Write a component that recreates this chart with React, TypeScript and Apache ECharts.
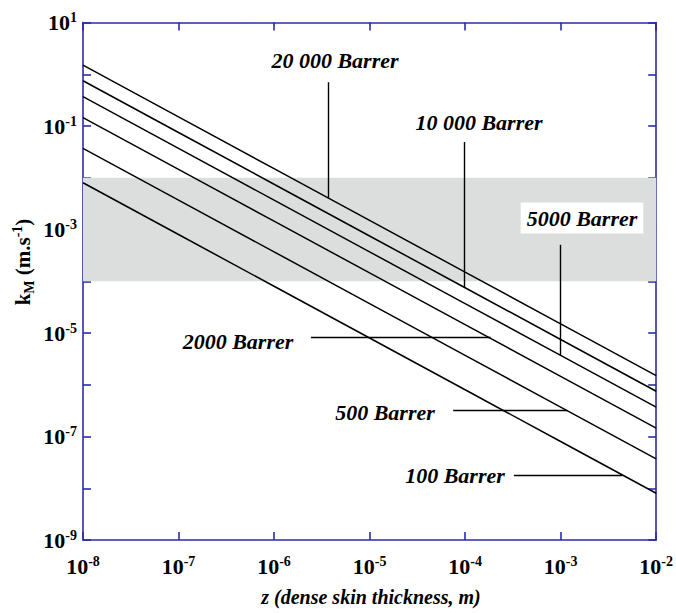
import React, { useEffect, useRef } from 'react';
import * as echarts from 'echarts';

// z (dense skin thickness, m) sample points
const zValues = [1e-8, 1e-7, 1e-6, 1e-5, 1e-4, 1e-3, 1e-2];
// kM (m.s-1) for each permeability
const k20000 = [1.5, 1.5e-1, 1.5e-2, 1.5e-3, 1.5e-4, 1.5e-5, 1.5e-6];
const k10000 = [0.75, 7.5e-2, 7.5e-3, 7.5e-4, 7.5e-5, 7.5e-6, 7.5e-7];
const k5000 = [0.37, 3.7e-2, 3.7e-3, 3.7e-4, 3.7e-5, 3.7e-6, 3.7e-7];
const k2000 = [0.145, 1.45e-2, 1.45e-3, 1.45e-4, 1.45e-5, 1.45e-6, 1.45e-7];
const k500 = [0.037, 3.7e-3, 3.7e-4, 3.7e-5, 3.7e-6, 3.7e-7, 3.7e-8];
const k100 = [0.008, 8e-4, 8e-5, 8e-6, 8e-7, 8e-8, 8e-9];

const seriesNames = ['20 000 Barrer', '10 000 Barrer', '5000 Barrer', '2000 Barrer', '500 Barrer', '100 Barrer'];
const seriesValues = [k20000, k10000, k5000, k2000, k500, k100];

// shaded range of kM
const bandRange = [1e-4, 1e-2];

// callout leader lines in data coordinates [z, kM]
const calloutFrom = [[3.65e-6, 0.7], [9.8e-5, 0.049], [1e-3, 5.07e-4], [2.43e-6, 8.1e-6], [7.5e-5, 3.16e-7], [3.24e-4, 1.76e-8]];
const calloutTo = [[3.65e-6, 4.1e-3], [9.8e-5, 7.65e-5], [1e-3, 3.7e-6], [1.85e-4, 8.1e-6], [1.17e-3, 3.16e-7], [4.43e-3, 1.76e-8]];

const FONT = "'Liberation Serif', 'Times New Roman', serif";
const AXIS_COLOR = '#2c2ca6';

// label layout (pixels)
const labelPos: [number, number][] = [[335, 60], [479, 122], [582, 218], [238, 341], [385, 412], [455, 475]];

export default function App() {
  const ref = useRef<HTMLDivElement>(null);
  useEffect(() => {
    if (!ref.current) return;
    const chart = echarts.init(ref.current, undefined, { renderer: 'svg' });
    const expFmt = (v: number) => {
      const e = Math.round(Math.log10(v));
      return `{b|10}{s|${e}}`;
    };
    const rich = {
      b: { fontFamily: FONT, fontWeight: 'bold', fontSize: 22, lineHeight: 24, color: '#000' },
      s: { fontFamily: FONT, fontWeight: 'bold', fontSize: 14, lineHeight: 14, verticalAlign: 'top', color: '#000' },
    };
    const axisLine = { show: true, lineStyle: { color: AXIS_COLOR, width: 1.6 } };
    const tick = { show: true, inside: true, length: 8, lineStyle: { color: AXIS_COLOR, width: 1.6 } };
    const baseX = { type: 'log', logBase: 10, min: 1e-8, max: 1e-2, interval: 1, splitLine: { show: false }, axisLine, axisTick: tick };
    const baseY = { type: 'log', logBase: 10, min: 1e-9, max: 10, interval: 1, splitLine: { show: false }, axisLine, axisTick: tick };

    const lineSeries = seriesNames.map((name, i) => ({
      name,
      type: 'line',
      z: 3,
      data: zValues.map((z, j) => [z, seriesValues[i][j]]),
      showSymbol: false,
      symbol: 'none',
      lineStyle: { color: '#000', width: 1.5 },
      silent: true,
    }));

    const graphics: any[] = seriesNames.map((name, i) => ({
      type: 'text',
      x: labelPos[i][0],
      y: labelPos[i][1],
      z: 10,
      style: {
        text: name,
        fontFamily: FONT,
        fontWeight: 'bold',
        fontStyle: 'italic',
        fontSize: 22,
        fill: '#000',
        align: 'center',
        verticalAlign: 'middle',
        ...(i === 2 ? { backgroundColor: '#fff', padding: [5, 6, 4, 6] } : {}),
      },
    }));
    graphics.push({
      type: 'text',
      x: 23,
      y: 262,
      rotation: Math.PI / 2,
      style: {
        text: '{k|k}{sub|M}{k| (m.s}{sup|-1}{k|)}',
        align: 'center',
        verticalAlign: 'middle',
        rich: {
          k: { fontFamily: FONT, fontWeight: 'bold', fontSize: 21, lineHeight: 26, fill: '#000' },
          sub: { fontFamily: FONT, fontWeight: 'bold', fontSize: 14, lineHeight: 14, verticalAlign: 'bottom', fill: '#000' },
          sup: { fontFamily: FONT, fontWeight: 'bold', fontSize: 14, lineHeight: 14, verticalAlign: 'top', fill: '#000' },
        },
      },
    });
    graphics.push({
      type: 'text',
      x: 371,
      y: 597,
      style: {
        text: 'z (dense skin thickness, m)',
        fontFamily: FONT,
        fontWeight: 'bold',
        fontStyle: 'italic',
        fontSize: 20,
        fill: '#000',
        align: 'center',
        verticalAlign: 'middle',
      },
    });

    chart.setOption({
      animation: false,
      backgroundColor: '#fff',
      grid: { left: 83, top: 22.5, width: 576, height: 517.5, containLabel: false },
      xAxis: [
        { ...baseX, position: 'bottom', axisLabel: { show: true, margin: 14, formatter: expFmt, rich } },
        { ...baseX, position: 'top', axisLabel: { show: false } },
      ],
      yAxis: [
        {
          ...baseY,
          position: 'left',
          axisLabel: {
            show: true,
            margin: 6,
            formatter: (v: number) => {
              const e = Math.round(Math.log10(v));
              return Math.abs(e) % 2 === 1 ? expFmt(v) : '';
            },
            rich,
          },
        },
        { ...baseY, position: 'right', axisLabel: { show: false } },
      ],
      series: [
        {
          type: 'line',
          z: 1,
          data: [],
          silent: true,
          markArea: {
            silent: true,
            itemStyle: { color: '#dcdddd', opacity: 1 },
            data: [[{ yAxis: bandRange[0] }, { yAxis: bandRange[1] }]],
          },
        },
        ...lineSeries,
        {
          type: 'line',
          z: 4,
          data: [],
          silent: true,
          markLine: {
            silent: true,
            symbol: ['none', 'none'],
            label: { show: false },
            lineStyle: { color: '#000', width: 1.4, type: 'solid' },
            data: calloutFrom.map((f, i) => [{ coord: f }, { coord: calloutTo[i] }]),
          },
        },
      ],
      graphic: graphics,
    });
    return () => chart.dispose();
  }, []);
  return <div ref={ref} style={{ position: 'absolute', left: 0, top: 0, width: 676, height: 613 }} />;
}
